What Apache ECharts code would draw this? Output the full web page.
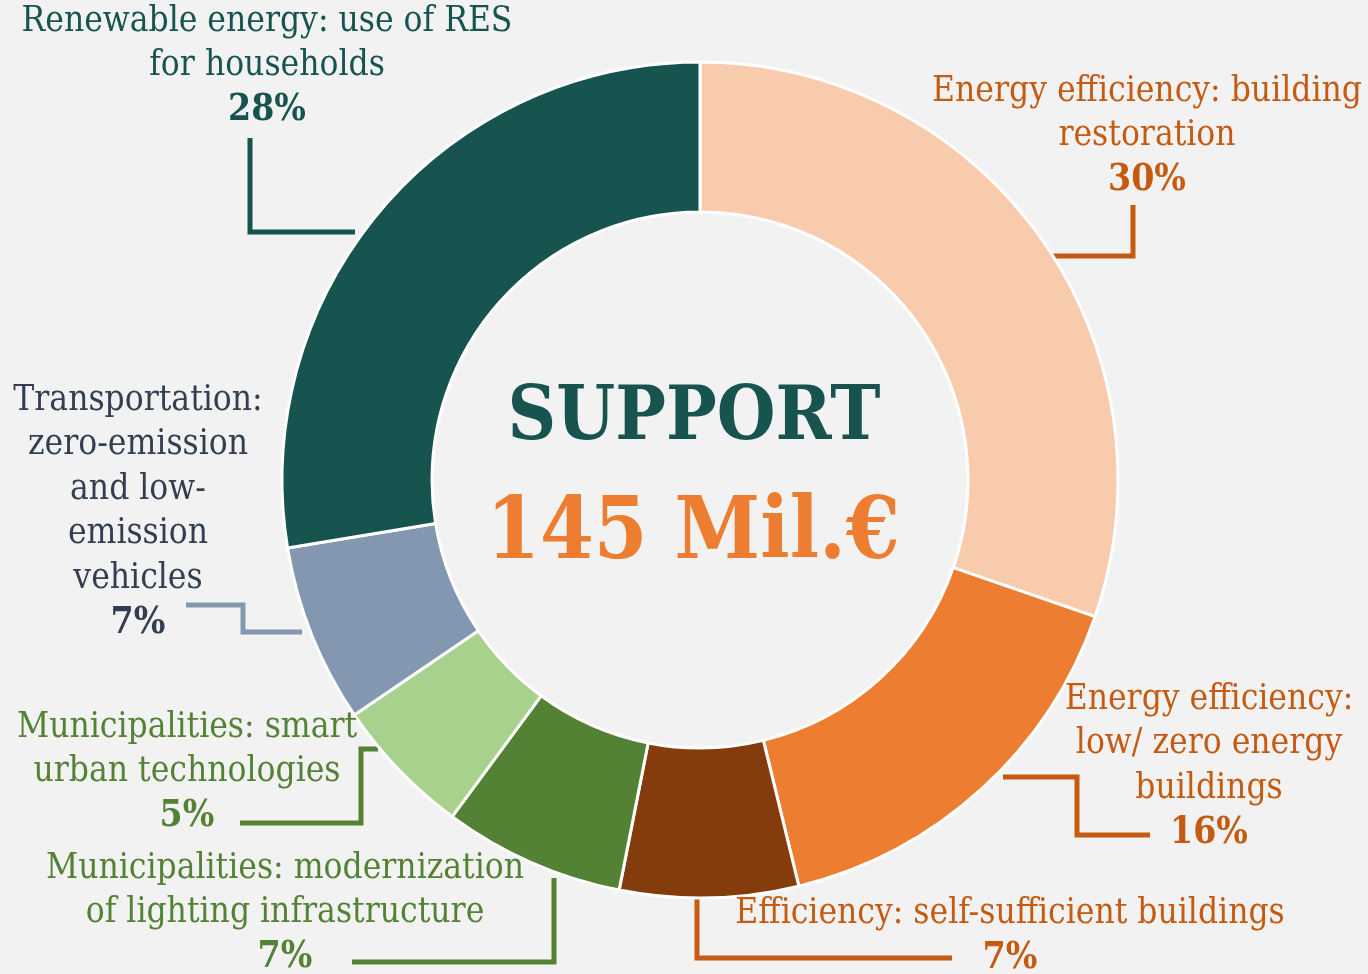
<!DOCTYPE html>
<html><head><meta charset="utf-8">
<script src="https://cdn.jsdelivr.net/npm/echarts@6/dist/echarts.min.js"></script>
<style>html,body{margin:0;padding:0;background:#F2F2F2;} #c{width:1368px;height:974px;}</style>
</head><body><div id="c"></div>
<script>
// ---- data ----
const categories = [
  'Energy efficiency: building\nrestoration',
  'Energy efficiency:\nlow/ zero energy\nbuildings',
  'Efficiency: self-sufficient buildings',
  'Municipalities: modernization\nof lighting infrastructure',
  'Municipalities: smart\nurban technologies',
  'Transportation:\nzero-emission\nand low-\nemission\nvehicles',
  'Renewable energy: use of RES\nfor households'
];
const shares = [30.3, 15.9, 6.9, 7.0, 5.4, 6.9, 27.6];
const centerTitle = 'SUPPORT';
const centerAmount = '145 Mil.€';

// ---- styles ----
const sliceColors = ['#F8CBAD', '#ED7D31', '#843C0C', '#548235', '#A9D18E', '#8497B0', '#17534F'];
const labelColors = ['#C55A11', '#C55A11', '#C55A11', '#548235', '#548235', '#333F50', '#17534F'];
const lineColors  = ['#C55A11', '#C55A11', '#C55A11', '#548235', '#548235', '#8497B0', '#17534F'];
const FONT = "'DejaVu Serif Condensed', 'DejaVu Serif', serif";
const FS = 35, FSP = 37, LH = 44.4;
const CX = 700, CY = 480;

// ---- label layout (first text line centre) and guide lines ----
const labelAnchors = [[1147, 92], [1209, 700], [1010, 914], [285, 869], [187, 728], [138, 401], [267, 22]];
const guidePoints = [
  [[1040, 256], [1133, 256], [1133, 205]],
  [[1003, 777], [1077, 777], [1077, 835], [1150, 835]],
  [[697, 885], [697, 958], [952, 958]],
  [[554, 878], [554, 962], [352, 962]],
  [[378, 749], [361, 749], [361, 823], [240, 823]],
  [[186, 605], [243, 605], [243, 632], [302, 632]],
  [[250, 138], [250, 232], [355, 232]]
];

const chart = echarts.init(document.getElementById('c'), null, {renderer: 'canvas'});

const data = categories.map((name, i) => ({
  name: name,
  value: shares[i],
  itemStyle: {color: sliceColors[i]},
  label: {
    rich: {
      n: {fontFamily: FONT, fontSize: FS, lineHeight: LH, color: labelColors[i], align: 'center'},
      p: {fontFamily: FONT, fontSize: FSP, lineHeight: LH, color: labelColors[i], fontWeight: 'bold', align: 'center'}
    }
  },
  labelLine: {lineStyle: {color: lineColors[i], width: 5}}
}));

chart.setOption({
  backgroundColor: '#F2F2F2',
  animation: false,
  graphic: [
    {type: 'text', x: CX - 6, y: CY - 60, style: {text: centerTitle, fill: '#17534F', font: "bold 75px " + FONT, textAlign: 'center', textVerticalAlign: 'middle'}},
    {type: 'text', x: CX - 7, y: CY + 56, style: {text: centerAmount, fill: '#ED7D31', font: "bold 86px " + FONT, textAlign: 'center', textVerticalAlign: 'middle'}}
  ],
  series: [{
    type: 'pie',
    center: [CX, CY],
    radius: [268, 418],
    startAngle: 90,
    clockwise: true,
    avoidLabelOverlap: false,
    emphasis: {disabled: true},
    itemStyle: {borderColor: '#FFFFFF', borderWidth: 3},
    label: {
      show: true,
      position: 'outside',
      overflow: 'none',
      width: 700,
      formatter: p => p.name.split('\n').map(s => '{n|' + s + '}').join('\n') + '\n{p|' + Math.round(p.value) + '%}'
    },
    labelLine: {show: true, smooth: false, lineStyle: {width: 5}},
    labelLayout: params => {
      const i = params.dataIndex;
      return {
        x: labelAnchors[i][0],
        y: labelAnchors[i][1] - LH / 2,
        align: 'center',
        verticalAlign: 'top',
        labelLinePoints: guidePoints[i]
      };
    },
    data: data
  }]
});
</script></body></html>
